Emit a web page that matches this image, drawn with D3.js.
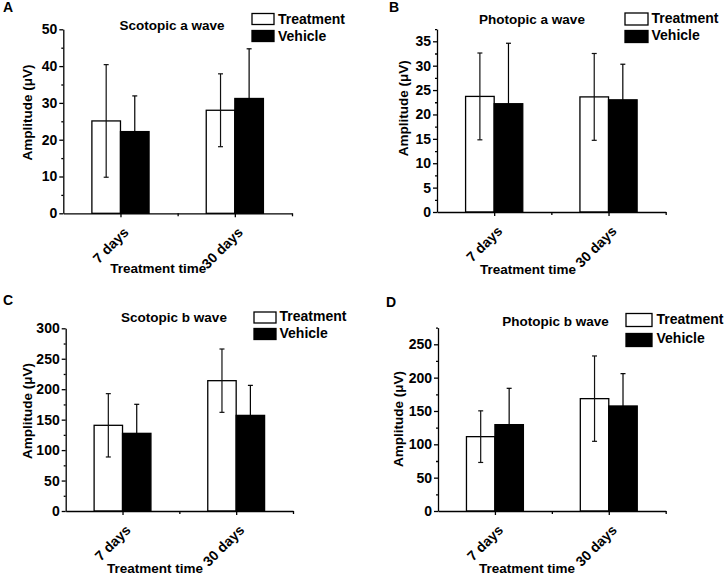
<!DOCTYPE html>
<html>
<head>
<meta charset="utf-8">
<script src="https://cdn.jsdelivr.net/npm/d3@7"></script>
<style>
  html, body { margin: 0; padding: 0; background: #fff; }
  svg { display: block; }
  text { font-family: "Liberation Sans", Arial, sans-serif; font-weight: bold; fill: #000; }
</style>
</head>
<body>
<svg id="chart" width="726" height="576"></svg>
<script>
// ---- data ----
const categories = ["7 days", "30 days"];
const seriesNames = ["Treatment", "Vehicle"];
const panelLetters = ["A", "B", "C", "D"];
const panelTitles = ["Scotopic a wave", "Photopic a wave", "Scotopic b wave", "Photopic b wave"];
const yAxisTitle = "Amplitude (\u03bcV)";
const xAxisTitle = "Treatment time";

const scotopicA_treatment = [25.1, 28.0];
const scotopicA_treatmentErr = [15.3, 9.9];
const scotopicA_vehicle = [22.2, 31.2];
const scotopicA_vehicleErr = [9.7, 13.5];

const photopicA_treatment = [23.7, 23.6];
const photopicA_treatmentErr = [8.9, 8.9];
const photopicA_vehicle = [22.2, 23.0];
const photopicA_vehicleErr = [12.4, 7.3];

const scotopicB_treatment = [140.7, 214.0];
const scotopicB_treatmentErr = [52.0, 52.0];
const scotopicB_vehicle = [127.5, 157.0];
const scotopicB_vehicleErr = [47.7, 49.3];

const photopicB_treatment = [111.5, 168.5];
const photopicB_treatmentErr = [38.7, 64.0];
const photopicB_vehicle = [129.5, 157.5];
const photopicB_vehicleErr = [54.5, 48.5];

const yTicksA = [0, 10, 20, 30, 40, 50];
const yTicksB = [0, 5, 10, 15, 20, 25, 30, 35];
const yTicksC = [0, 50, 100, 150, 200, 250, 300];
const yTicksD = [0, 50, 100, 150, 200, 250];

// ---- layout ----
const panels = [
  { letter: panelLetters[0], title: panelTitles[0], mean: [scotopicA_treatment, scotopicA_vehicle], err: [scotopicA_treatmentErr, scotopicA_vehicleErr],
    ticks: yTicksA, minorStep: 5, yMax: 50, refVal: 50,
    x0: 63.3, x1: 292, yB: 213.3, yRef: 29.3,
    letterPos: [3, 12], titlePos: [172, 29.5],
    legend: { x: 252, y1: 13.5, y2: 30.5, w: 22, h: 11, tx: 278, b1: 23.5, b2: 40.5 },
    yTitle: [31.5, 112.5], xTitle: [158.3, 272.5] },
  { letter: panelLetters[1], title: panelTitles[1], mean: [photopicA_treatment, photopicA_vehicle], err: [photopicA_treatmentErr, photopicA_vehicleErr],
    ticks: yTicksB, minorStep: 2.5, yMax: 37.5, refVal: 35,
    x0: 437, x1: 665.7, yB: 212, yRef: 41.3,
    letterPos: [389, 12], titlePos: [532, 24],
    legend: { x: 625, y1: 13, y2: 30.5, w: 23, h: 12, tx: 651.5, b1: 23, b2: 39.5 },
    yTitle: [407.5, 108.3], xTitle: [528, 273.5] },
  { letter: panelLetters[2], title: panelTitles[2], mean: [scotopicB_treatment, scotopicB_vehicle], err: [scotopicB_treatmentErr, scotopicB_vehicleErr],
    ticks: yTicksC, minorStep: 25, yMax: 300, refVal: 300,
    x0: 65.7, x1: 293, yB: 511, yRef: 328.3,
    letterPos: [3, 305], titlePos: [174, 321.5],
    legend: { x: 254, y1: 312, y2: 328.5, w: 22, h: 11, tx: 279.5, b1: 321, b2: 337.5 },
    yTitle: [31.5, 411], xTitle: [155, 573] },
  { letter: panelLetters[3], title: panelTitles[3], mean: [photopicB_treatment, photopicB_vehicle], err: [photopicB_treatmentErr, photopicB_vehicleErr],
    ticks: yTicksD, minorStep: 25, yMax: 275, refVal: 250,
    x0: 438, x1: 665.7, yB: 511, yRef: 344.3,
    letterPos: [386, 307], titlePos: [555.5, 325.5],
    legend: { x: 626, y1: 313.5, y2: 333.5, w: 26, h: 13, tx: 656.5, b1: 323.5, b2: 343 },
    yTitle: [402.7, 419], xTitle: [527, 573] }
];

const svg = d3.select("#chart");
const fills = ["#ffffff", "#000000"];

panels.forEach(p => {
  const g = svg.append("g");
  const x = d3.scaleLinear().domain([0.5, 2.5]).range([p.x0, p.x1]);
  const pxPerUnit = (p.yB - p.yRef) / p.refVal;
  const y = d3.scaleLinear().domain([0, p.yMax]).range([p.yB, p.yB - p.yMax * pxPerUnit]);

  // bars
  const barW = 0.25;
  seriesNames.forEach((s, si) => {
    categories.forEach((c, ci) => {
      const cx = ci + 1;
      const left = si === 0 ? cx - barW : cx;
      g.append("rect")
        .attr("x", x(left))
        .attr("y", y(p.mean[si][ci]))
        .attr("width", x(left + barW) - x(left))
        .attr("height", y(0) - y(p.mean[si][ci]))
        .attr("fill", fills[si])
        .attr("stroke", "#000")
        .attr("stroke-width", 1.3);
    });
  });

  // error bars
  seriesNames.forEach((s, si) => {
    categories.forEach((c, ci) => {
      const cx = ci + 1;
      const mid = si === 0 ? cx - barW / 2 : cx + barW / 2;
      const m = p.mean[si][ci], e = p.err[si][ci];
      const X = x(mid);
      const col = si === 0 ? "#111" : "#000";
      g.append("line").attr("x1", X).attr("x2", X).attr("y1", y(m - e)).attr("y2", y(m + e))
        .attr("stroke", col).attr("stroke-width", 1.2);
      [m + e, m - e].forEach(v => {
        g.append("line").attr("x1", X - 2.5).attr("x2", X + 2.5).attr("y1", y(v)).attr("y2", y(v))
          .attr("stroke", col).attr("stroke-width", 1.2);
      });
    });
  });

  // y axis
  const minorVals = d3.range(0, p.yMax + 1e-9, p.minorStep).filter(v => !p.ticks.includes(v));
  const yMinor = g.append("g").attr("transform", `translate(${p.x0},0)`)
    .call(d3.axisLeft(y).tickValues(minorVals).tickSize(2).tickSizeOuter(0).tickFormat(""));
  yMinor.select(".domain").remove();
  const yAx = g.append("g").attr("transform", `translate(${p.x0},0)`)
    .call(d3.axisLeft(y).tickValues(p.ticks).tickSize(4).tickSizeOuter(0).tickPadding(2));
  yAx.selectAll("text").style("font-size", "14px").style("font-family", "'Liberation Sans', Arial, sans-serif").style("font-weight", "bold");

  // x axis
  const xMinor = g.append("g").attr("transform", `translate(0,${p.yB})`)
    .call(d3.axisBottom(x).tickValues([1.5, 2.5]).tickSize(3).tickSizeOuter(0).tickFormat(""));
  xMinor.select(".domain").remove();
  g.append("g").attr("transform", `translate(0,${p.yB})`)
    .call(d3.axisBottom(x).tickValues([1, 2]).tickSize(4).tickSizeOuter(0).tickFormat(""));
  g.selectAll(".domain, .tick line").attr("stroke", "#000").attr("stroke-width", 1.3);

  categories.forEach((c, ci) => {
    g.append("text")
      .attr("transform", `translate(${x(ci + 1) + 9},${p.yB + 20}) rotate(-45)`)
      .attr("text-anchor", "end")
      .style("font-size", "14px")
      .text(c);
  });

  // titles
  g.append("text").attr("x", p.letterPos[0]).attr("y", p.letterPos[1]).style("font-size", "14px").text(p.letter);
  g.append("text").attr("x", p.titlePos[0]).attr("y", p.titlePos[1]).attr("text-anchor", "middle")
    .style("font-size", "13.5px").text(p.title);
  g.append("text").attr("transform", `translate(${p.yTitle[0]},${p.yTitle[1]}) rotate(-90)`)
    .attr("text-anchor", "middle").style("font-size", "13.5px").text(yAxisTitle);
  g.append("text").attr("x", p.xTitle[0]).attr("y", p.xTitle[1]).attr("text-anchor", "middle")
    .style("font-size", "13.5px").text(xAxisTitle);

  // legend
  const L = p.legend;
  [L.y1, L.y2].forEach((yy, si) => {
    g.append("rect").attr("x", L.x).attr("y", yy).attr("width", L.w).attr("height", L.h)
      .attr("fill", fills[si]).attr("stroke", "#000").attr("stroke-width", 1.3);
  });
  g.append("text").attr("x", L.tx).attr("y", L.b1).style("font-size", "14px").text(seriesNames[0]);
  g.append("text").attr("x", L.tx).attr("y", L.b2).style("font-size", "14px").text(seriesNames[1]);
});
</script>
</body>
</html>
